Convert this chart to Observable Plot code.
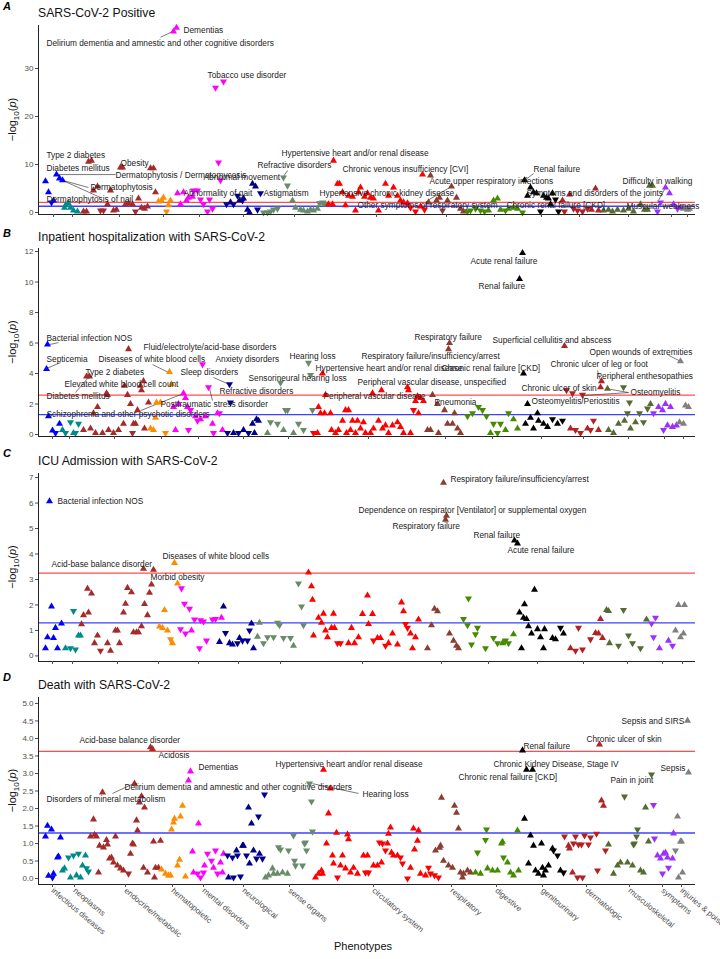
<!DOCTYPE html>
<html><head><meta charset="utf-8">
<script src="https://cdn.jsdelivr.net/npm/d3@7"></script>
<script src="https://cdn.jsdelivr.net/npm/@observablehq/plot@0.6"></script>
<style>
body{margin:0;background:#fff;font-family:"Liberation Sans",Arial,sans-serif}
#root{position:relative;width:720px;height:959px;overflow:hidden}
.tag{position:absolute;left:3px;font-weight:bold;font-style:italic;font-size:11px;line-height:11px;color:#000}
.title{position:absolute;left:38px;font-size:12.2px;line-height:12px;color:#111;white-space:nowrap}
.panel{position:absolute;left:0}
#xlab{position:absolute;top:940px;left:0;width:726px;text-align:center;font-size:11px;color:#111}
</style></head>
<body><div id="root"></div>
<script>
// ---------- categories ----------
const categories = ["infectious diseases","neoplasms","endocrine/metabolic","hematopoietic","mental disorders","neurological","sense organs","circulatory system","respiratory","digestive","genitourinary","dermatologic","musculoskeletal","symptoms","injuries & poisonings"];
const catCodes = ["inf","neo","endo","hem","men","neu","sen","cir","res","dig","gu","der","mus","sym","inj"];
const catColors = ["#0000FF","#008B8B","#A52A2A","#FF8C00","#FF00FF","#00008B","#698B69","#FF0000","#8B3E2F","#458B00","#000000","#B22222","#556B2F","#9B30FF","#808080"];

// category tick positions (phenotype order) per panel
const ticksA = [53,72,119,163,199,243,294,376,446,494,541,579,628,671,687];
const ticksB = [52,69,114,161,198,243,288,368,445,492,541,583,628,664,683];
const ticksC = [52,72,117,158,198,238,280,362,441,488,537,583,627,662,682];
const ticksD = [52,74,125,172,203,243,289,373,451,496,542,586,629,662,681];

// significance thresholds (-log10 p)
const bonferroni = [2.1, 2.58, 3.25, 3.63];
const nominal = 1.3;

const panelTitles = ["SARS-CoV-2 Positive","Inpatient hospitalization with SARS-CoV-2","ICU Admission with SARS-CoV-2","Death with SARS-CoV-2"];
const panelTags = ["A","B","C","D"];

// points: [category, phenotype order, -log10(p), direction (1 up / -1 down)]
const pointsA = [
["inf",45,6.5,1],["inf",48,4.2,1],["inf",51,2.1,-1],["inf",53,2.5,1],["inf",56,7.9,1],["inf",59,7.1,1],["inf",62,6.7,1],
["neo",64,1.0,1],["neo",65,1.5,1],["neo",68,1.9,1],["neo",70,1.0,1],["neo",73,0.4,1],["neo",77,0.2,1],
["endo",83,0.2,1],["endo",86,0.2,1],["endo",88,10.6,1],["endo",91,10.8,1],["endo",93,4.6,1],["endo",97,5.4,1],["endo",100,0.4,-1],["endo",103,0.4,-1],["endo",107,1.7,1],["endo",110,4.6,1],["endo",113,0.4,1],["endo",116,0.6,1],["endo",120,9.4,1],["endo",122,9.4,1],["endo",125,1.7,1],["endo",128,1.9,1],["endo",132,1.7,1],["endo",135,0.2,-1],["endo",138,2.9,1],["endo",141,1.0,1],["endo",144,0.8,1],["endo",147,1.25,1],["endo",150,9.2,1],["endo",153,9.2,1],["endo",155,4.2,1],
["hem",158,2.3,1],["hem",161,2.5,1],["hem",163,3.1,1],["hem",166,0.2,-1],["hem",168,1.5,1],["hem",170,2.5,1],
["men",173,37.7,1],["men",176,38.5,1],["men",177,4.0,1],["men",180,1.7,1],["men",183,4.2,1],["men",186,2.5,1],["men",188,3.1,1],["men",192,3.3,1],["men",193,4.6,-1],["men",197,4.6,-1],["men",200,2.7,-1],["men",203,1.7,-1],["men",207,0.2,-1],["men",209,2.7,-1],["men",212,0.8,-1],["men",215,26.0,-1],["men",218,10.4,-1],["men",220,6.7,-1],["men",223,27.3,-1],
["neu",226,1.7,-1],["neu",230,2.1,1],["neu",233,1.7,-1],["neu",237,3.5,-1],["neu",239,2.5,1],["neu",242,2.5,-1],["neu",243,2.9,1],["neu",247,0.6,1],["neu",249,0.0,1],["neu",252,6.0,1],["neu",255,5.4,1],["neu",257,0.6,-1],["neu",260,4.0,-1],
["sen",263,0.0,-1],["sen",267,0.0,-1],["sen",270,0.2,-1],["sen",273,0.6,-1],["sen",277,0.8,-1],["sen",283,7.3,-1],["sen",287,5.6,-1],["sen",292,2.5,1],["sen",295,1.0,1],["sen",300,0.6,1],["sen",303,0.4,1],["sen",307,0.2,1],["sen",310,0.6,1],["sen",313,0.4,1],["sen",317,0.8,1],["sen",319,1.9,-1],["sen",322,2.1,-1],["sen",325,1.7,1],
["cir",328,1.7,1],["cir",332,1.7,1],["cir",333,10.8,1],["cir",337,6.0,1],["cir",339,6.0,1],["cir",342,4.2,1],["cir",345,1.5,1],["cir",348,3.5,1],["cir",352,3.3,1],["cir",355,0.4,1],["cir",358,4.2,1],["cir",360,5.2,1],["cir",364,3.3,1],["cir",367,4.0,1],["cir",370,3.1,1],["cir",373,2.9,1],["cir",378,0.4,1],["cir",385,6.0,1],["cir",388,3.5,1],["cir",393,5.2,1],["cir",397,3.5,1],["cir",400,2.5,1],["cir",403,2.1,1],["cir",407,1.9,1],["cir",410,1.0,-1],["cir",415,0.2,-1],["cir",420,1.25,1],["cir",422,7.9,1],["cir",424,0.6,-1],
["res",428,2.1,1],["res",430,7.7,1],["res",436,2.5,1],["res",439,3.1,1],["res",442,0.4,-1],["res",447,2.5,1],["res",451,5.4,1],["res",456,3.1,1],["res",460,0.8,1],["res",463,0.2,1],
["dig",467,0.2,-1],["dig",470,0.4,-1],["dig",475,0.8,-1],["dig",480,0.4,-1],["dig",484,0.2,-1],["dig",488,0.4,1],["dig",493,2.5,1],["dig",497,2.9,1],["dig",500,0.6,1],["dig",505,0.4,-1],["dig",508,0.8,1],["dig",513,1.0,1],["dig",517,0.8,1],["dig",522,0.0,-1],
["gu",524,6.7,1],["gu",527,3.5,1],["gu",530,5.2,1],["gu",533,4.2,1],["gu",536,4.0,1],["gu",540,0.2,-1],["gu",543,3.5,1],["gu",546,3.1,1],["gu",548,2.9,1],["gu",550,1.7,1],["gu",552,4.0,1],["gu",555,2.7,-1],["gu",558,0.2,-1],
["der",562,2.5,1],["der",564,0.2,-1],["der",569,3.75,1],["der",573,0.8,-1],["der",577,0.4,-1],["der",582,0.2,-1],["der",587,0.8,-1],["der",591,0.6,1],["der",595,5.0,1],["der",598,0.4,1],
["mus",603,0.4,1],["mus",608,0.6,1],["mus",612,0.2,1],["mus",617,0.6,1],["mus",623,0.4,1],["mus",628,0.8,1],["mus",633,0.2,1],["mus",640,1.7,1],["mus",644,0.6,1],["mus",647,0.6,1],["mus",649,5.6,1],["mus",652,5.6,1],
["sym",657,0.2,-1],["sym",660,2.1,-1],["sym",665,5.2,1],["sym",669,4.0,1],["sym",673,1.7,1],["sym",677,0.8,-1],["sym",680,1.0,1],
["inj",683,0.8,1],["inj",687,0.6,1],["inj",689,0.8,1]
];

const pointsB = [
["inf",46,4.3,1],["inf",47,5.9,1],["inf",48,1.2,1],["inf",52,0.26,1],["inf",55,0.1,-1],["inf",59,0.7,1],
["neo",62,0.3,1],["neo",65,0.1,-1],["neo",70,0.8,-1],["neo",73,0.1,1],["neo",75,0.1,-1],["neo",78,0.7,-1],
["endo",83,0.3,1],["endo",86,3.8,1],["endo",89,3.8,1],["endo",90,0.4,1],["endo",93,1.4,1],["endo",95,0.1,1],["endo",97,1.8,1],["endo",102,0.1,1],["endo",106,2.7,1],["endo",107,2.6,1],["endo",108,0.3,1],["endo",113,0.1,1],["endo",118,0.3,1],["endo",123,0.7,1],["endo",124,3.2,1],["endo",127,2.6,1],["endo",128,5.6,1],["endo",130,2.0,1],["endo",132,0.1,-1],["endo",133,0.7,1],["endo",135,0.7,1],["endo",137,1.6,1],["endo",140,3.2,1],["endo",141,2.9,1],["endo",143,3.5,1],["endo",144,0.4,1],["endo",148,2.1,1],
["hem",150,0.4,1],["hem",153,0.3,1],["hem",155,1.1,1],["hem",156,2.1,1],["hem",160,2.1,1],["hem",165,0.1,-1],["hem",169,4.1,1],["hem",171,3.3,1],
["men",173,1.8,1],["men",175,0.3,1],["men",178,2.0,1],["men",183,2.7,1],["men",185,2.4,1],["men",187,1.8,1],["men",188,0.3,-1],["men",190,1.6,-1],["men",195,1.2,1],["men",197,0.9,-1],["men",200,1.0,1],["men",202,4.6,-1],["men",205,1.2,1],["men",208,3.1,-1],["men",212,0.7,1],["men",213,0.1,-1],["men",217,1.4,1],["men",219,1.4,-1],["men",222,0.3,1],
["neu",227,0.1,-1],["neu",229,3.3,-1],["neu",230,2.1,-1],["neu",233,0.1,1],["neu",238,0.1,-1],["neu",243,0.3,1],["neu",248,0.1,-1],["neu",252,0.7,1],["neu",254,0.1,1],["neu",256,1.0,1],["neu",258,0.9,1],
["sen",267,0.1,1],["sen",270,0.8,-1],["sen",277,0.7,-1],["sen",280,3.4,-1],["sen",283,0.3,1],["sen",285,1.6,-1],["sen",287,1.6,-1],["sen",293,0.1,1],["sen",298,0.7,-1],["sen",303,0.3,-1],["sen",308,4.7,-1],["sen",310,3.9,-1],["sen",312,1.6,-1],
["cir",313,0.1,-1],["cir",317,0.1,1],["cir",318,1.8,1],["cir",320,1.4,1],["cir",322,4.0,1],["cir",324,1.4,1],["cir",325,2.6,1],["cir",330,1.4,1],["cir",331,0.3,1],["cir",335,0.1,1],["cir",338,0.3,1],["cir",342,0.9,1],["cir",345,1.6,1],["cir",346,0.1,1],["cir",348,1.6,1],["cir",350,0.3,1],["cir",352,0.9,1],["cir",355,0.1,1],["cir",357,0.9,1],["cir",360,0.4,1],["cir",363,0.8,1],["cir",365,0.1,1],["cir",370,0.1,1],["cir",372,2.7,1],["cir",373,0.4,1],["cir",378,0.9,1],["cir",381,2.9,1],["cir",382,0.4,1],["cir",385,0.6,1],["cir",388,0.1,1],["cir",392,0.6,1],["cir",397,0.8,1],["cir",400,0.5,1],["cir",403,0.1,1],["cir",407,3.1,1],["cir",408,2.9,1],["cir",410,0.1,1],["cir",413,1.6,-1],["cir",415,2.2,1],["cir",417,2.5,1],["cir",418,1.4,1],["cir",420,2.4,1],["cir",423,2.2,1],
["res",427,0.3,1],["res",430,0.3,1],["res",432,2.6,1],["res",437,2.0,1],["res",438,0.1,1],["res",444,1.6,1],["res",447,0.7,1],["res",448,5.6,1],["res",449,6.0,1],["res",452,0.7,1],["res",454,1.4,1],["res",457,0.4,1],["res",460,0.1,1],
["dig",467,1.2,-1],["dig",472,1.4,-1],["dig",478,1.8,-1],["dig",482,1.6,-1],["dig",486,1.2,-1],["dig",490,0.1,1],["dig",493,0.7,-1],["dig",497,0.1,-1],["dig",500,0.7,-1],["dig",505,0.3,1],["dig",508,1.4,-1],["dig",513,1.0,1],["dig",517,0.4,1],
["gu",519,10.2,1],["gu",522,11.9,1],["gu",523,4.0,1],["gu",525,0.7,1],["gu",527,2.0,1],["gu",530,1.1,1],["gu",533,0.4,1],["gu",537,1.4,1],["gu",538,0.9,1],["gu",543,0.7,1],["gu",547,0.5,1],["gu",552,1.0,-1],["gu",557,0.7,1],["gu",562,0.9,-1],
["der",564,5.8,1],["der",566,2.9,-1],["der",570,0.4,1],["der",572,2.7,-1],["der",575,0.3,-1],["der",580,0.1,-1],["der",582,2.6,-1],["der",587,0.4,1],["der",590,0.3,-1],["der",593,0.9,-1],["der",598,0.3,1],["der",600,3.1,1],["der",601,3.5,1],
["mus",607,3.0,1],["mus",608,0.3,1],["mus",613,0.1,1],["mus",618,0.7,1],["mus",623,3.1,-1],["mus",624,0.9,1],["mus",627,1.4,-1],["mus",629,2.1,-1],["mus",630,0.4,1],["mus",635,0.8,1],["mus",639,1.4,-1],["mus",643,0.8,-1],["mus",647,1.7,-1],["mus",650,2.0,1],
["sym",653,1.4,-1],["sym",658,1.8,1],["sym",662,1.6,1],["sym",663,0.3,-1],["sym",665,2.0,1],["sym",667,0.6,1],["sym",670,1.8,1],["sym",672,0.5,1],["sym",676,0.6,1],
["inj",679,0.8,1],["inj",680,4.8,1],["inj",683,0.7,1],["inj",685,1.9,1],["inj",688,1.8,1]
];

const pointsC = [
["inf",45,0.3,1],["inf",47,0.73,1],["inf",49,6.07,1],["inf",51,1.94,1],["inf",53,0.7,1],["inf",55,1.1,1],["inf",57,0.3,1],["inf",61,1.27,1],
["neo",65,0.3,1],["neo",70,0.3,-1],["neo",73,1.76,-1],["neo",75,0.25,-1],["neo",78,0.8,1],["neo",80,0.8,1],
["endo",81,1.24,1],["endo",83,1.6,1],["endo",87,2.64,1],["endo",88,1.7,1],["endo",91,2.45,1],["endo",94,0.5,1],["endo",97,0.8,1],["endo",100,0.2,-1],["endo",107,0.5,1],["endo",110,0.2,1],["endo",115,1.0,1],["endo",117,1.0,1],["endo",119,0.5,1],["endo",123,1.7,1],["endo",125,2.05,1],["endo",127,2.67,1],["endo",131,2.5,1],["endo",133,0.93,1],["endo",136,0.93,1],["endo",138,0.93,1],["endo",141,1.16,1],["endo",143,3.42,1],["endo",144,2.04,1],["endo",147,1.6,1],["endo",149,2.48,1],["endo",151,2.8,1],["endo",153,3.38,1],
["hem",159,1.15,1],["hem",162,1.1,1],["hem",164,1.8,1],["hem",167,1.0,1],["hem",170,0.65,-1],["hem",172,0.5,1],["hem",174,3.65,1],["hem",177,2.84,1],
["men",180,1.05,-1],["men",181,2.65,-1],["men",184,2.05,-1],["men",185,0.88,-1],["men",189,1.85,-1],["men",191,1.0,1],["men",194,1.43,-1],["men",199,0.3,-1],["men",200,1.4,-1],["men",203,1.35,-1],["men",206,0.6,-1],["men",212,1.43,-1],["men",215,1.45,-1],["men",221,1.5,1],
["neu",219,0.55,1],["neu",223,1.94,1],["neu",225,0.9,-1],["neu",229,0.5,1],["neu",232,0.45,1],["neu",237,0.5,-1],["neu",239,0.7,1],["neu",242,0.6,-1],["neu",247,0.6,-1],["neu",249,1.0,-1],["neu",251,1.27,1],["neu",253,0.3,1],
["sen",257,0.75,1],["sen",259,1.3,1],["sen",263,0.5,-1],["sen",267,0.73,-1],["sen",273,0.73,-1],["sen",277,1.3,-1],["sen",279,1.2,-1],["sen",283,0.7,-1],["sen",290,0.7,-1],["sen",293,0.4,1],["sen",298,2.84,-1],["sen",301,1.94,-1],["sen",303,1.2,-1],
["cir",308,3.27,1],["cir",311,2.73,1],["cir",312,2.2,1],["cir",313,0.8,1],["cir",318,1.5,1],["cir",321,1.3,1],["cir",323,1.66,1],["cir",325,1.0,1],["cir",327,0.73,1],["cir",331,1.1,1],["cir",333,1.66,1],["cir",334,1.1,1],["cir",337,0.5,-1],["cir",340,0.5,-1],["cir",348,0.5,1],["cir",351,1.1,1],["cir",354,0.5,1],["cir",358,0.73,1],["cir",362,1.65,1],["cir",367,2.37,1],["cir",368,1.25,1],["cir",372,1.65,1],["cir",373,0.6,-1],["cir",377,0.7,1],["cir",380,0.7,1],["cir",385,0.4,-1],["cir",388,0.5,1],["cir",392,0.88,1],["cir",397,0.45,1],["cir",401,2.1,1],["cir",403,1.75,1],["cir",405,1.25,-1],["cir",407,1.1,-1],["cir",410,0.88,1],["cir",412,0.3,1],["cir",415,0.73,1],["cir",418,1.43,1],
["res",427,0.3,1],["res",431,1.2,1],["res",434,1.85,1],["res",437,1.75,1],["res",443,6.8,1],["res",445,5.35,1],["res",446,5.5,1],["res",449,0.88,1],["res",453,0.6,1],["res",456,0.4,1],["res",458,0.3,1],
["dig",463,1.45,-1],["dig",467,1.2,-1],["dig",468,2.25,-1],["dig",471,0.45,-1],["dig",475,0.85,-1],["dig",477,1.1,-1],["dig",485,0.3,-1],["dig",493,0.7,-1],["dig",497,0.5,-1],["dig",502,0.5,1],["dig",505,0.6,-1],["dig",508,0.5,-1],["dig",513,0.85,1],
["gu",514,4.53,1],["gu",517,4.41,1],["gu",519,1.7,1],["gu",521,0.3,1],["gu",523,1.5,1],["gu",524,2.03,1],["gu",526,1.45,1],["gu",528,1.16,1],["gu",531,0.88,1],["gu",534,2.6,1],["gu",537,1.05,1],["gu",540,0.73,1],["gu",543,0.3,1],["gu",544,1.05,1],["gu",552,0.7,1],["gu",555,0.65,1],["gu",560,1.1,-1],["gu",563,0.88,1],
["der",570,0.3,1],["der",575,0.2,-1],["der",578,1.1,-1],["der",582,0.25,-1],["der",590,0.65,-1],["der",595,0.9,1],["der",598,0.88,1],["der",600,1.45,1],["der",602,0.7,1],
["mus",606,1.8,1],["mus",608,1.76,1],["mus",609,0.5,1],["mus",618,0.4,-1],["mus",623,1.8,-1],["mus",628,0.8,-1],["mus",632,0.5,-1],["mus",640,0.3,-1],["mus",646,1.43,1],
["sym",651,1.27,-1],["sym",653,0.73,-1],["sym",655,1.5,-1],["sym",659,0.3,1],["sym",668,0.6,1],["sym",672,0.4,-1],
["inj",675,1.0,1],["inj",678,2.0,1],["inj",680,0.73,1],["inj",683,0.88,1],["inj",684,2.0,1]
];

const pointsD = [
["inf",45,1.2,1],["inf",47,1.51,1],["inf",48,0.08,1],["inf",51,1.4,1],["inf",52,0.03,-1],["inf",53,0.14,1],["inf",57,0.6,1],["inf",58,0.63,1],["inf",60,1.17,1],
["neo",62,0.23,1],["neo",64,0.29,1],["neo",68,0.6,-1],["neo",70,0.03,1],["neo",73,0.66,-1],["neo",76,0.09,1],["neo",78,0.71,-1],["neo",80,0.03,1],["neo",82,0.37,1],["neo",85,0.66,1],["neo",86,0.29,-1],["neo",88,0.2,-1],
["endo",90,1.2,1],["endo",93,1.69,1],["endo",94,1.25,1],["endo",96,1.2,1],["endo",98,0.17,1],["endo",99,0.94,1],["endo",102,2.46,1],["endo",103,0.89,1],["endo",106,1.1,1],["endo",107,0.97,1],["endo",109,0.57,1],["endo",111,0.6,1],["endo",113,0.46,1],["endo",115,1.2,1],["endo",117,0.37,1],["endo",120,0.29,1],["endo",123,0.23,1],["endo",128,0.14,-1],["endo",130,0.71,1],["endo",132,1.0,1],["endo",133,0.97,1],["endo",134,2.71,1],["endo",136,1.66,1],["endo",137,1.37,1],["endo",139,2.17,1],["endo",141,2.35,1],["endo",143,0.31,1],["endo",144,2.03,1],["endo",147,0.17,1],["endo",150,3.75,1],["endo",152,3.7,1],["endo",153,1.06,1],["endo",154,0.03,1],["endo",155,0.31,1],["endo",158,0.31,1],["endo",160,1.08,1],
["hem",161,0.26,1],["hem",165,0.14,1],["hem",168,0.09,1],["hem",170,0.09,1],["hem",171,1.4,1],["hem",173,1.6,1],["hem",174,1.71,1],["hem",177,0.37,1],["hem",179,0.54,1],["hem",180,1.77,1],["hem",182,2.08,1],["hem",185,0.06,1],
["men",188,2.8,1],["men",190,3.06,1],["men",192,0.77,1],["men",193,0.17,1],["men",197,0.14,-1],["men",198,1.57,1],["men",200,0.03,-1],["men",203,0.17,-1],["men",204,0.37,1],["men",207,0.71,-1],["men",211,0.51,-1],["men",213,0.31,1],["men",215,0.8,-1],["men",217,0.14,-1],["men",220,0.46,1],["men",222,0.17,1],["men",223,0.71,1],
["neu",227,0.66,-1],["neu",228,0.03,1],["neu",232,0.6,-1],["neu",233,0.03,-1],["neu",236,0.8,1],["neu",237,0.66,-1],["neu",240,0.06,-1],["neu",242,0.94,1],["neu",243,0.94,1],["neu",246,0.66,-1],["neu",248,2.03,1],["neu",249,0.43,1],["neu",251,1.57,1],["neu",253,0.8,1],["neu",256,0.57,-1],["neu",258,1.77,-1],["neu",259,0.71,1],["neu",262,0.57,-1],["neu",264,2.4,-1],
["sen",265,0.03,1],["sen",268,0.09,1],["sen",272,0.29,1],["sen",273,0.14,1],["sen",277,0.14,1],["sen",278,0.89,-1],["sen",280,0.83,-1],["sen",282,0.17,1],["sen",287,0.14,1],["sen",288,0.8,-1],["sen",293,1.23,-1],["sen",294,0.51,-1],["sen",295,0.37,-1],["sen",302,0.37,-1],["sen",304,1.0,-1],["sen",305,1.03,-1],["sen",306,0.8,-1],["sen",309,2.71,-1],["sen",311,2.2,-1],["sen",312,1.34,-1],
["cir",315,0.03,1],["cir",318,0.14,1],["cir",321,0.23,1],["cir",322,0.14,1],["cir",323,3.11,1],["cir",326,1.0,1],["cir",328,1.86,1],["cir",330,2.57,1],["cir",332,0.66,1],["cir",333,0.43,1],["cir",336,1.31,1],["cir",337,0.03,-1],["cir",340,0.37,1],["cir",342,0.66,1],["cir",345,0.29,1],["cir",347,1.26,1],["cir",348,1.12,1],["cir",350,0.17,1],["cir",353,0.31,1],["cir",357,0.14,1],["cir",363,0.66,1],["cir",365,0.17,-1],["cir",367,0.66,1],["cir",368,0.17,-1],["cir",373,0.37,1],["cir",377,0.37,1],["cir",379,1.03,-1],["cir",381,0.46,1],["cir",382,1.0,-1],["cir",385,0.8,-1],["cir",387,1.0,1],["cir",388,1.28,1],["cir",390,1.46,1],["cir",391,0.74,1],["cir",393,0.66,1],["cir",397,0.66,1],["cir",400,0.6,-1],["cir",402,0.43,-1],["cir",407,0.0,-1],["cir",410,0.31,1],["cir",413,1.43,1],["cir",414,0.83,1],["cir",417,1.08,1],["cir",418,1.37,1],["cir",420,0.14,1],["cir",425,0.09,1],["cir",428,0.31,-1],["cir",430,0.14,-1],["cir",434,0.09,-1],["cir",438,0.03,-1],
["res",435,0.8,1],["res",439,0.88,1],["res",440,0.94,1],["res",441,2.31,1],["res",443,0.51,1],["res",448,0.37,1],["res",452,0.31,1],["res",454,2.08,1],["res",456,1.88,1],["res",458,1.43,1],["res",460,0.17,1],["res",462,0.03,1],["res",463,0.14,1],["res",467,0.23,1],["res",470,0.17,1],
["dig",475,0.17,1],["dig",477,0.74,-1],["dig",480,0.14,1],["dig",485,1.1,-1],["dig",486,1.4,-1],["dig",487,0.29,1],["dig",492,0.23,1],["dig",497,0.23,1],["dig",501,1.0,1],["dig",502,1.05,1],["dig",503,0.6,-1],["dig",507,0.46,1],["dig",510,0.17,1],["dig",513,0.09,1],["dig",517,1.37,1],["dig",518,0.23,1],
["gu",522,3.66,1],["gu",524,1.71,1],["gu",526,3.11,1],["gu",528,0.43,1],["gu",530,1.23,1],["gu",532,3.11,1],["gu",533,0.94,1],["gu",535,0.23,1],["gu",538,0.14,1],["gu",541,1.0,1],["gu",542,0.31,1],["gu",543,0.09,1],["gu",545,0.23,1],["gu",548,0.37,1],["gu",552,0.86,1],["gu",553,0.8,-1],["gu",557,0.66,-1],["gu",560,0.23,1],["gu",563,0.17,-1],
["der",564,1.2,-1],["der",568,0.94,1],["der",569,0.86,1],["der",572,0.17,1],["der",573,1.0,-1],["der",575,1.2,-1],["der",577,0.03,-1],["der",578,0.97,-1],["der",581,0.97,-1],["der",582,0.03,-1],["der",584,1.23,-1],["der",588,0.97,-1],["der",590,1.17,-1],["der",596,1.28,-1],["der",597,0.23,-1],["der",599,3.83,1],["der",601,2.23,1],["der",603,2.08,1],["der",605,0.8,-1],
["mus",608,0.97,1],["mus",613,0.14,1],["mus",617,0.37,1],["mus",620,0.46,1],["mus",624,2.34,-1],["mus",627,0.46,1],["mus",632,0.37,1],["mus",633,0.97,-1],["mus",634,1.0,-1],["mus",636,1.2,-1],["mus",637,1.4,-1],["mus",640,0.23,1],["mus",643,0.17,1],["mus",645,2.03,1],["mus",648,1.06,1],["mus",651,2.97,-1],
["sym",653,2.1,-1],["sym",654,1.14,-1],["sym",657,0.66,1],["sym",660,0.57,1],["sym",662,0.14,-1],["sym",663,0.71,1],["sym",665,0.74,1],["sym",667,0.6,1],["sym",668,0.31,-1],["sym",672,0.57,1],["sym",673,1.29,1],
["inj",675,0.8,-1],["inj",677,1.77,1],["inj",678,0.03,1],["inj",680,1.06,1],["inj",681,1.06,1],["inj",682,0.17,1],["inj",687,4.51,1],["inj",688,3.03,1]
];

// annotation labels: [text, phenotype order at label start, -log10(p) at label centre]
const labelsA = [
["Dementias",183,37.9],["Delirium dementia and amnestic and other cognitive disorders",46,35.2],["Tobacco use disorder",207,28.5],
["Type 2 diabetes",46,11.9],["Hypertensive heart and/or renal disease",281,12.3],["Obesity",120,10.2],["Refractive disorders",257,9.8],
["Diabetes mellitus",46,9.2],["Chronic venous insufficiency [CVI]",342,9.0],["Renal failure",533,9.0],["Dermatophytosis / Dermatomycosis",115,7.7],
["Abnormal movement",203,7.3],["Acute upper respiratory infections",429,6.5],["Difficulty in walking",622,6.5],["Dermatophytosis",90,5.2],
["Abnormality of gait",183,4.0],["Astigmatism",263,4.0],["Hypertensive chronic kidney disease",319,4.0],["Symptoms and disorders of the joints",526,4.0],
["Dermatophytosis of nail",46,2.7],["Other symptoms of respiratory system",357,1.5],["Chronic renal failure [CKD]",506,1.5],["Muscular weakness",626,1.3]
];
const labelsB = [
["Acute renal failure",470,11.35],["Renal failure",478,9.7],["Respiratory failure",414,6.35],["Bacterial infection NOS",46,6.3],
["Superficial cellulitis and abscess",492,6.2],["Fluid/electrolyte/acid-base disorders",143,5.7],["Open wounds of extremities",589,5.4],
["Hearing loss",289,5.1],["Respiratory failure/insufficiency/arrest",361,5.1],["Septicemia",46,4.9],["Diseases of white blood cells",98,4.9],
["Anxiety disorders",215,4.9],["Chronic ulcer of leg or foot",550,4.6],["Hypertensive heart and/or renal disease",315,4.35],
["Chronic renal failure [CKD]",441,4.35],["Type 2 diabetes",85,4.1],["Sleep disorders",180,4.1],["Peripheral enthesopathies",596,3.8],
["Sensorineural hearing loss",248,3.67],["Peripheral vascular disease, unspecified",357,3.4],["Elevated white blood cell count",64,3.3],
["Chronic ulcer of skin",521,3.0],["Refractive disorders",219,2.8],["Osteomyelitis",630,2.75],["Diabetes mellitus",46,2.5],
["Peripheral vascular disease",323,2.5],["Osteomyelitis/Periostitis",531,2.2],["Pneumonia",434,2.1],["Posttraumatic stress disorder",160,2.0],
["Schizophrenia and other psychotic disorders",46,1.3]
];
const labelsC = [
["Respiratory failure/insufficiency/arrest",450,6.95],["Bacterial infection NOS",57,6.07],
["Dependence on respirator [Ventilator] or supplemental oxygen",358,5.7],["Respiratory failure",392,5.08],["Renal failure",473,4.72],
["Acute renal failure",507,4.14],["Diseases of white blood cells",162,3.9],["Acid-base balance disorder",51,3.6],["Morbid obesity",150,3.1]
];
const labelsD = [
["Sepsis and SIRS",621,4.49],["Chronic ulcer of skin",586,3.97],["Acid-base balance disorder",79,3.94],["Renal failure",523,3.77],
["Acidosis",158,3.51],["Chronic Kidney Disease, Stage IV",493,3.26],["Hypertensive heart and/or renal disease",275,3.25],["Dementias",198,3.17],
["Sepsis",660,3.14],["Chronic renal failure [CKD]",458,2.9],["Pain in joint",610,2.8],
["Delirium dementia and amnestic and other cognitive disorders",124,2.61],["Hearing loss",362,2.4],["Disorders of mineral metabolism",46,2.26]
];

// leader lines: [x1, y1, x2, y2] in phenotype order / -log10(p)
const leadersA = [[160,36.5,172,37.7],[58,7.9,115,7.9],[62,6.7,88,5.2],[62,6.7,100,3.1],[287,8.75,283,7.5],[427,2.5,451,5.4],[533,8.1,523,6.5],[665,5.2,658,2.5]];
const leadersB = [[58,6.03,49,5.9],[60,4.72,46,4.33],[152,4.59,168,4.07],[213,3.74,229,3.28],[75,2.75,87,3.67],[140,1.57,183,2.69],[209,3.02,212,2.23],[668,5.2,680,4.8],[597,4.2,600,3.54],[628,2.75,607,3.0],[628,2.75,583,2.56]];
const leadersC = [];
const leadersD = [[112,2.43,133,2.71],[312,2.71,358,2.43]];

// y-axis ticks per panel
const yTicksA = [0,10,20,30];
const yTicksB = [0,2,4,6,8,10,12];
const yTicksC = [0,1,2,3,4,5,6,7];
const yTicksD = [0,0.5,1,1.5,2,2.5,3,3.5,4,4.5,5];

// ---------- drawing ----------
const xDomain = [38, 695];
const root = document.getElementById("root");

const panels = [
  {points:pointsA,labels:labelsA,leaders:leadersA,ticks:ticksA,yTicks:yTicksA,fmt:d3.format("d"),yDomain:[-0.42,38.96],plotTop:25,plotBottom:214,mb:10,showX:false,tagY:1,titleY:7},
  {points:pointsB,labels:labelsB,leaders:leadersB,ticks:ticksB,yTicks:yTicksB,fmt:d3.format("d"),yDomain:[-0.13,12.2],plotTop:248,plotBottom:436,mb:10,showX:false,tagY:228,titleY:231},
  {points:pointsC,labels:labelsC,leaders:leadersC,ticks:ticksC,yTicks:yTicksC,fmt:d3.format("d"),yDomain:[-0.22,7.16],plotTop:473,plotBottom:661,mb:10,showX:false,tagY:448,titleY:455},
  {points:pointsD,labels:labelsD,leaders:leadersD,ticks:ticksD,yTicks:yTicksD,fmt:d3.format(".1f"),yDomain:[-0.17,5.17],plotTop:697,plotBottom:884,mb:70,showX:true,tagY:672,titleY:679}
];

panels.forEach((cfg, k) => {
  const mt = 10;
  const h = mt + (cfg.plotBottom - cfg.plotTop) + cfg.mb;
  const pts = cfg.points.map(([c,x,y,d]) => ({c,x,y,d}));
  const nameAt = new Map(cfg.ticks.map((t,i) => [t, categories[i]]));
  const svg = Plot.plot({
    width: 720, height: h,
    marginLeft: 38, marginRight: 25, marginTop: mt, marginBottom: cfg.mb,
    style: {background: "transparent", fontFamily: "Liberation Sans, Arial, sans-serif", color: "#333", overflow: "visible"},
    x: {domain: xDomain},
    y: {domain: cfg.yDomain},
    color: {type: "identity"},
    marks: [
      Plot.ruleY([bonferroni[k]], {stroke: "#ff0000", strokeOpacity: 0.7, strokeWidth: 1.3}),
      Plot.ruleY([nominal], {stroke: "#0000ff", strokeOpacity: 0.75, strokeWidth: 1.3}),
      Plot.link(cfg.leaders, {x1: d => d[0], y1: d => d[1], x2: d => d[2], y2: d => d[3], stroke: "#222", strokeWidth: 0.6}),
      Plot.dot(pts, {x: "x", y: "y", symbol: "triangle", r: 2.6,
        fill: d => catColors[catCodes.indexOf(d.c)], rotate: d => d.d < 0 ? 180 : 0}),
      Plot.text(cfg.labels, {x: d => d[1], y: d => d[2], text: d => d[0], textAnchor: "start", fontSize: 8.3, fill: "#222"}),
      Plot.ruleX([xDomain[0]], {stroke: "#222", strokeWidth: 1}),
      Plot.ruleY([cfg.yDomain[0]], {stroke: "#222", strokeWidth: 1}),
      Plot.axisY({ticks: cfg.yTicks, tickFormat: cfg.fmt, tickSize: 3, tickPadding: 2, fontSize: 8, label: null, color: "#4d4d4d"}),
      Plot.axisX({ticks: cfg.ticks, tickSize: 3, tickPadding: 2, fontSize: 8, label: null, color: "#4d4d4d",
        tickFormat: cfg.showX ? (d => nameAt.get(d)) : (() => ""),
        tickRotate: cfg.showX ? 40 : 0, textAnchor: cfg.showX ? "start" : "middle"})
    ]
  });
  svg.classList.add("panel");
  svg.style.position = "absolute";
  svg.style.top = (cfg.plotTop - mt) + "px";
  svg.style.left = "0px";
  // y-axis title: −log10(p)
  const cy = mt + (cfg.plotBottom - cfg.plotTop) / 2;
  const t = d3.select(svg).append("text")
    .attr("transform", `translate(16,${cy}) rotate(-90)`)
    .attr("text-anchor", "middle").attr("font-size", 11).attr("fill", "#111");
  t.append("tspan").text("\u2212log");
  t.append("tspan").attr("font-size", 8).attr("dy", 3).text("10");
  t.append("tspan").attr("dy", -3).text("(");
  t.append("tspan").attr("font-style", "italic").text("p");
  t.append("tspan").text(")");
  root.appendChild(svg);

  const tag = document.createElement("div");
  tag.className = "tag"; tag.style.top = cfg.tagY + "px"; tag.textContent = panelTags[k];
  root.appendChild(tag);
  const title = document.createElement("div");
  title.className = "title"; title.style.top = cfg.titleY + "px"; title.textContent = panelTitles[k];
  root.appendChild(title);
});

const xl = document.createElement("div");
xl.id = "xlab"; xl.textContent = "Phenotypes";
root.appendChild(xl);
</script>
</body></html>
